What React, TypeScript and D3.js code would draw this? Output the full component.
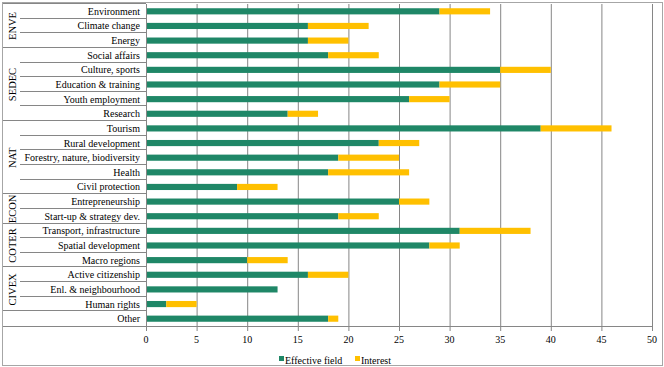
import React from "react";
import * as d3 from "d3";

const categories = [
  "Environment", "Climate change", "Energy",
  "Social affairs", "Culture, sports", "Education & training", "Youth employment", "Research",
  "Tourism", "Rural development", "Forestry, nature, biodiversity", "Health", "Civil protection",
  "Entrepreneurship", "Start-up & strategy dev.",
  "Transport, infrastructure", "Spatial development", "Macro regions",
  "Active citizenship", "Enl. & neighbourhood", "Human rights",
  "Other",
];
const effective = [29, 16, 16, 18, 35, 29, 26, 14, 39, 23, 19, 18, 9, 25, 19, 31, 28, 10, 16, 13, 2, 18];
const interest = [5, 6, 4, 5, 5, 6, 4, 3, 7, 4, 6, 8, 4, 3, 4, 7, 3, 4, 4, 0, 3, 1];
// committee groups: name, first row, row count
const groups: [string, number, number][] = [
  ["ENVE", 0, 3],
  ["SEDEC", 3, 5],
  ["NAT", 8, 5],
  ["ECON", 13, 2],
  ["COTER", 15, 3],
  ["CIVEX", 18, 3],
  ["", 21, 1],
];
const ticks = [0, 5, 10, 15, 20, 25, 30, 35, 40, 45, 50];

const GREEN = "#1f8767";
const YELLOW = "#ffc000";
const FONT = "Liberation Serif, DejaVu Serif, serif";

export default function App() {
  const W = 664, H = 367;
  const top = 4, bottom = 326, left = 146;
  const x = d3.scaleLinear().domain([0, 50]).range([left, 652]);
  const y = d3.scaleBand<string>().domain(categories).range([top, bottom]).paddingInner(0.58).paddingOuter(0.29);
  const rowH = (bottom - top) / categories.length;
  const rowTop = (i: number) => top + i * rowH;

  return (
    <svg width={W} height={H} style={{ position: "absolute", left: 0, top: 0, fontFamily: FONT }}>
      <rect x={0} y={0} width={W} height={H} fill="#fff" />
      <rect x={2.5} y={2.5} width={660} height={363} fill="none" stroke="#a6a6a6" />

      {/* gridlines + ticks */}
      {ticks.map((t) => (
        <g key={t}>
          {t > 0 && <line x1={x(t) + 0.5} x2={x(t) + 0.5} y1={top} y2={bottom + 5} stroke="#868686" />}
          <text x={x(t)} y={343} fontSize={10} textAnchor="middle" fill="#000">{t}</text>
        </g>
      ))}
      <line x1={left - 0.5} x2={x(50) + 0.5} y1={bottom + 0.5} y2={bottom + 0.5} stroke="#868686" />
      <line x1={left + 0.5} x2={left + 0.5} y1={top} y2={bottom + 5} stroke="#868686" />

      {/* category separators */}
      {categories.map((c, i) => {
        const g = groups.find((gr) => gr[1] === i);
        const x0 = g ? 3 : 20;
        return <line key={"s" + i} x1={x0} x2={left} y1={Math.round(rowTop(i)) - 0.5} y2={Math.round(rowTop(i)) - 0.5} stroke="#868686" />;
      })}
      <line x1={3} x2={left} y1={bottom + 0.5} y2={bottom + 0.5} stroke="#868686" />

      {/* labels */}
      {categories.map((c, i) => (
        <text key={"l" + i} x={140} y={y(c)! + y.bandwidth() / 2} dy="0.35em" fontSize={10} textAnchor="end" fill="#000">{c}</text>
      ))}
      {groups.filter((g) => g[0]).map(([name, s, n]) => {
        const cy = rowTop(s) + (n * rowH) / 2;
        return (
          <text key={name} transform={`translate(12,${cy}) rotate(-90)`} dy="0.35em" fontSize={10.5} textAnchor="middle" fill="#000">{name}</text>
        );
      })}

      {/* bars */}
      {categories.map((c, i) => (
        <g key={"b" + i}>
          <rect x={x(0) + 1} y={y(c)} width={x(effective[i]) - x(0) - 1} height={y.bandwidth()} fill={GREEN} />
          {interest[i] > 0 && (
            <rect x={x(effective[i])} y={y(c)} width={x(effective[i] + interest[i]) - x(effective[i])} height={y.bandwidth()} fill={YELLOW} />
          )}
        </g>
      ))}

      {/* legend */}
      <rect x={279} y={356} width={5} height={5} fill={GREEN} />
      <text x={285} y={364} fontSize={10} fill="#000">Effective field</text>
      <rect x={355} y={356} width={5} height={5} fill={YELLOW} />
      <text x={361} y={364} fontSize={10} fill="#000">Interest</text>
    </svg>
  );
}
